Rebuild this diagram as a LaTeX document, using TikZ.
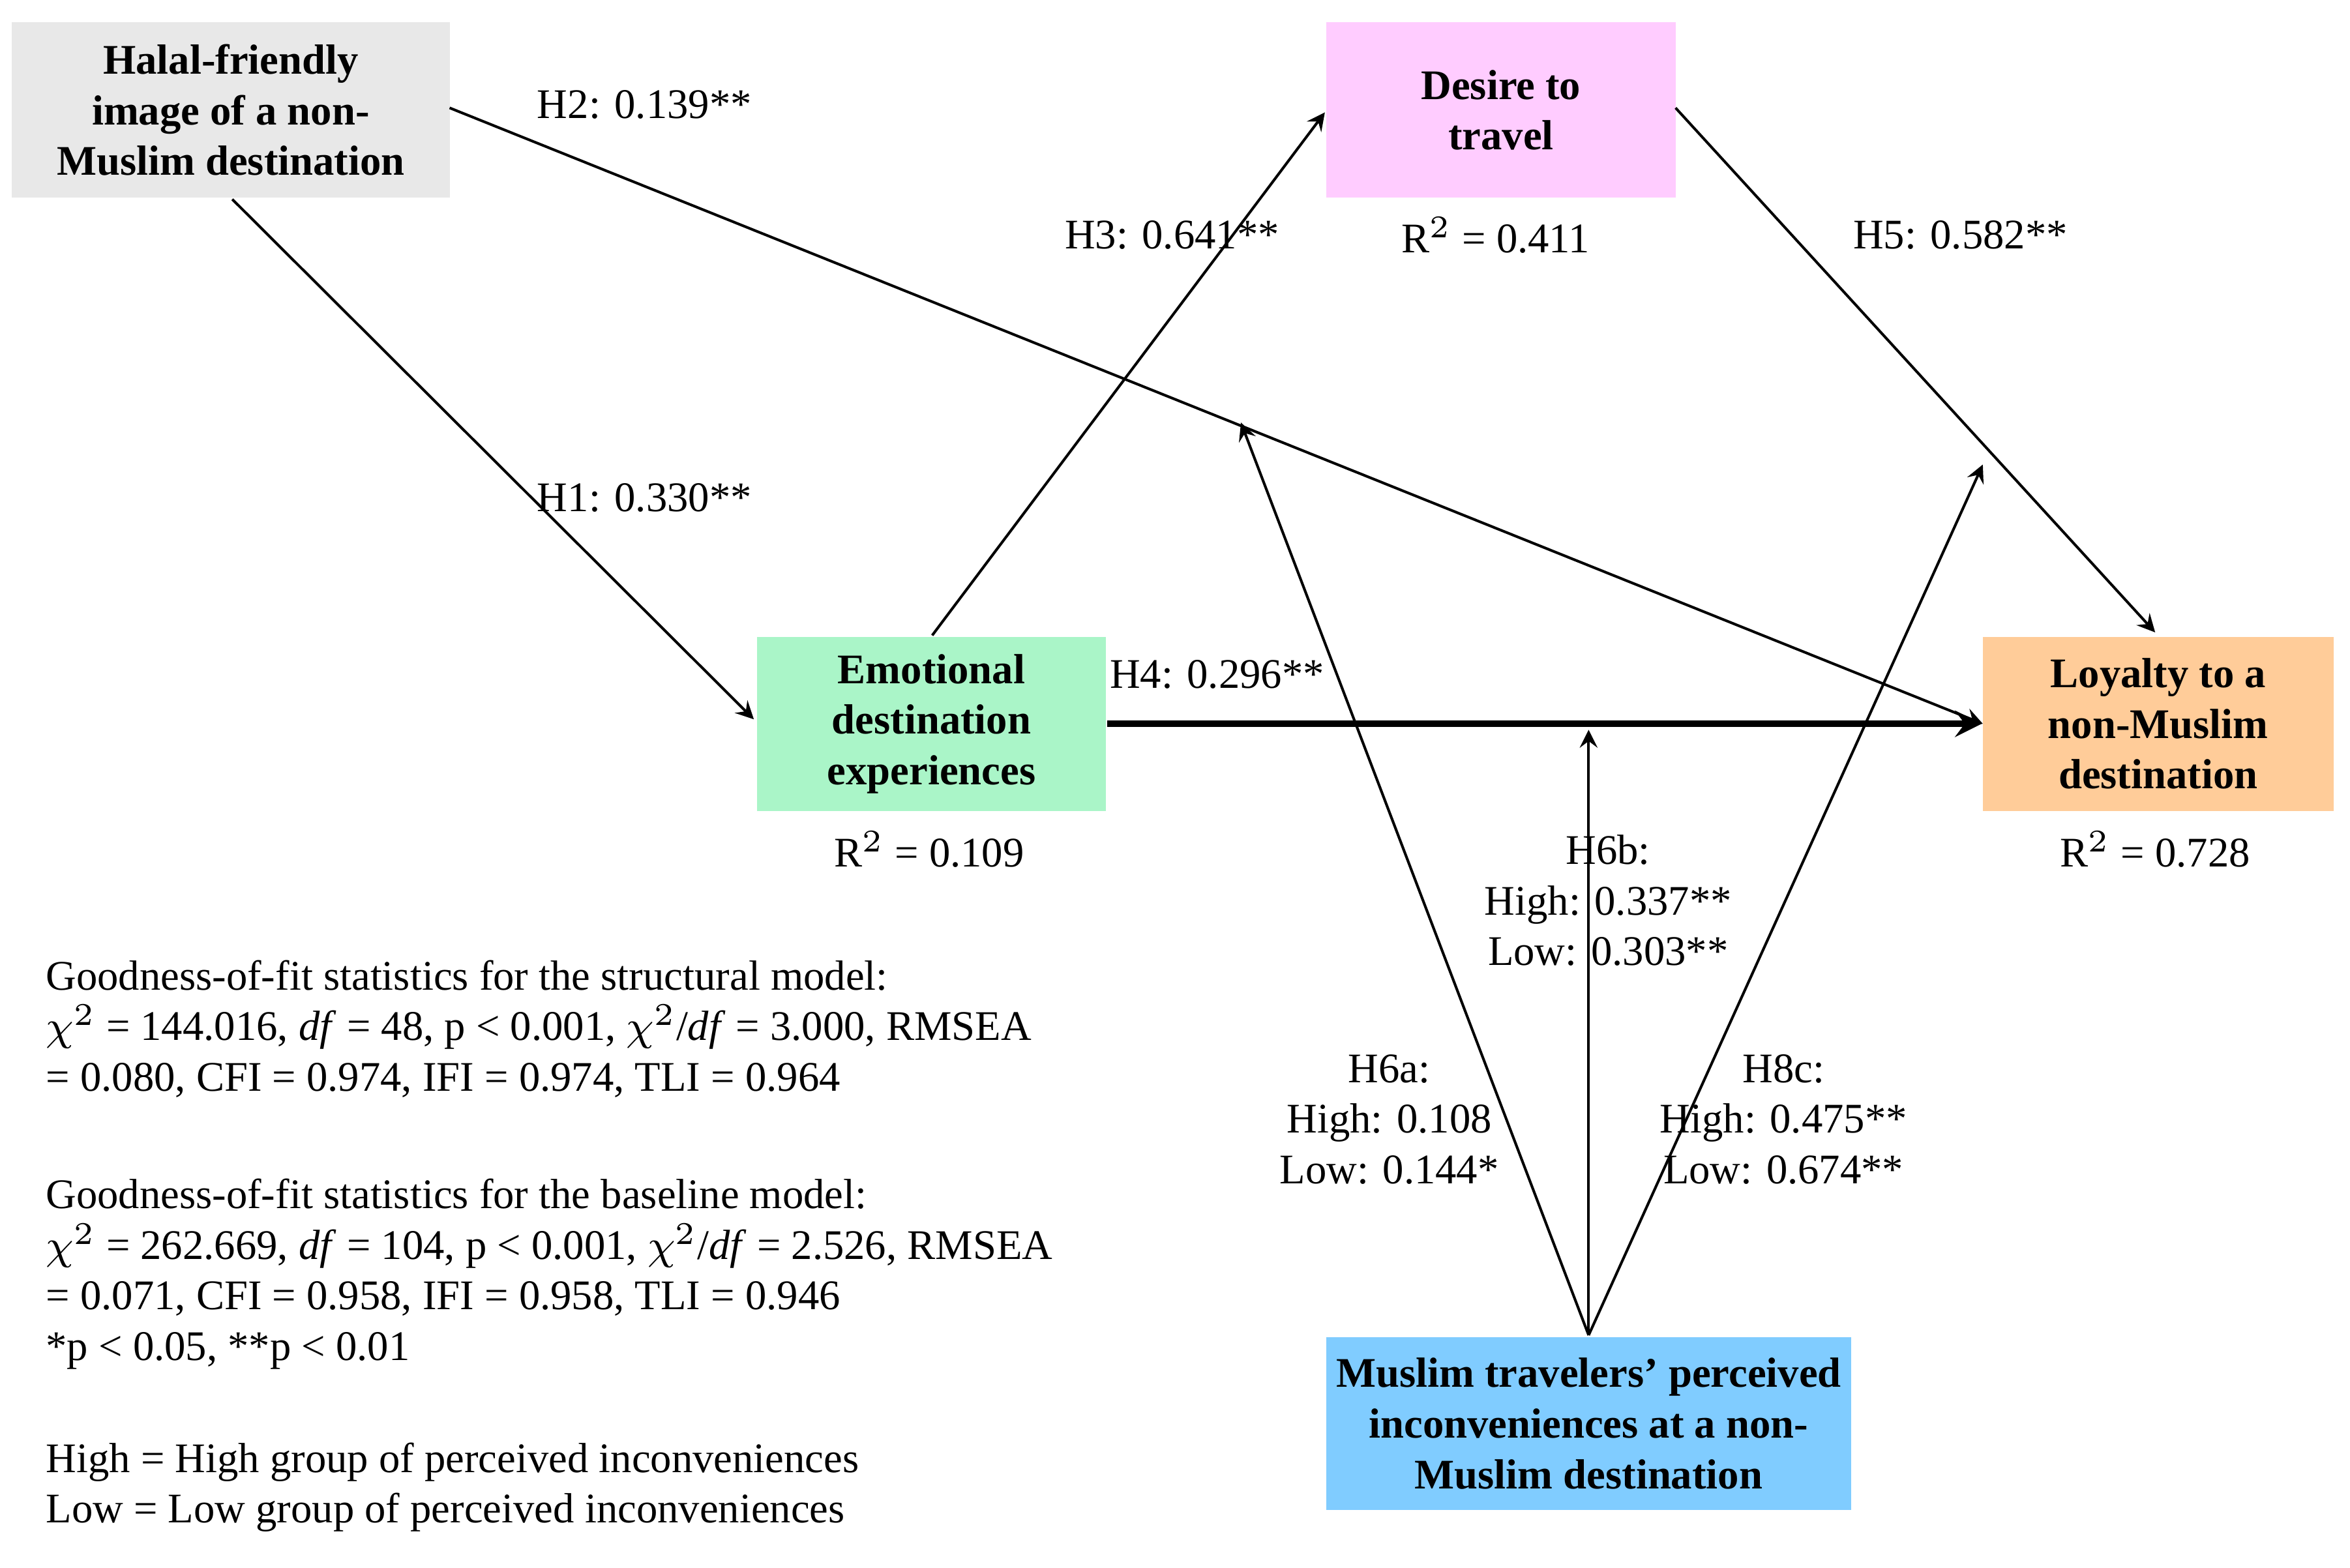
\documentclass[tikz,border=0pt]{standalone}
\usepackage{fontspec}
\setmainfont{Liberation Serif}
\begin{document}
\begin{tikzpicture}[x=0.01cm,y=-0.01cm,
  every node/.style={font=\fontsize{8}{9.6}\selectfont},
  box/.style={draw=none,minimum width=#1,inner sep=0pt,align=center,font=\fontsize{8}{9.6}\selectfont\bfseries},
  arr/.style={-stealth,line width=0.5pt},
  lab/.style={inner sep=0pt,align=center}]
\useasboundingbox (0,0) rectangle (1568,1046);
\fill[white] (0,0) rectangle (1568,1046);
\node[box=2.92cm,fill={rgb,255:red,232;green,232;blue,232},minimum height=1.17cm] (hal) at (154,73.5) {Halal-friendly\\image of a non-\\Muslim destination};
\node[box=2.33cm,fill={rgb,255:red,255;green,204;blue,255},minimum height=1.17cm] (des) at (1001.5,73.5) {Desire to\\travel};
\node[box=2.33cm,fill={rgb,255:red,170;green,245;blue,200},minimum height=1.16cm] (emo) at (621.5,483) {Emotional\\destination\\experiences};
\node[box=2.34cm,fill={rgb,255:red,255;green,204;blue,153},minimum height=1.16cm] (loy) at (1440,483) {Loyalty to a\\non-Muslim\\destination};
\node[box=3.5cm,fill={rgb,255:red,128;green,204;blue,255},minimum height=1.15cm] (mus) at (1060,950) {Muslim travelers' perceived\\inconveniences at a non-\\Muslim destination};
\coordinate (a1) at (155,133); \coordinate (b1) at (503,480);
\draw[arr] (a1) -- (b1);
\coordinate (a2) at (300,72); \coordinate (b2) at (1323,483);
\draw[arr] (a2) -- (b2);
\coordinate (a3) at (622,424); \coordinate (b3) at (884,75);
\draw[arr] (a3) -- (b3);
\coordinate (a5) at (1118,72); \coordinate (b5) at (1438,422);
\draw[arr] (a5) -- (b5);
\draw[arr,line width=1.2pt] (emo.east) -- (loy.west);
\coordinate (m) at (1060,891);
\coordinate (t6a) at (828,282); \coordinate (t6b) at (1060,487); \coordinate (t8c) at (1323,310);
\draw[arr] (m) -- (t6a);
\draw[arr] (m) -- (t6b);
\draw[arr] (m) -- (t8c);
\node[lab] (l2) at (430,70) {H2: 0.139**};
\node[lab] (l3) at (782,157) {H3: 0.641**};
\node[lab] (r1) at (998,157) {R$^2$ = 0.411};
\node[lab] (l5) at (1308,157) {H5: 0.582**};
\node[lab] (l1) at (430,332) {H1: 0.330**};
\node[lab] (l4) at (812,450) {H4: 0.296**};
\node[lab] (r2) at (620,567) {R$^2$ = 0.109};
\node[lab] (r3) at (1438,567) {R$^2$ = 0.728};
\node[lab] (l6b) at (1073,601) {H6b:\\High: 0.337**\\Low: 0.303**};
\node[lab] (l6a) at (927,747) {H6a:\\High: 0.108\\Low: 0.144*};
\node[lab] (l8c) at (1190,747) {H8c:\\High: 0.475**\\Low: 0.674**};
\node[lab,anchor=north west,align=left] (st) at (30,640) {Goodness-of-fit statistics for the structural model:\\
$\chi^2$ = 144.016, \textit{df} = 48, p < 0.001, $\chi^2$/\textit{df} = 3.000, RMSEA\\
= 0.080, CFI = 0.974, IFI = 0.974, TLI = 0.964};
\node[lab,anchor=north west,align=left] (sb) at (30,786) {Goodness-of-fit statistics for the baseline model:\\
$\chi^2$ = 262.669, \textit{df} = 104, p < 0.001, $\chi^2$/\textit{df} = 2.526, RMSEA\\
= 0.071, CFI = 0.958, IFI = 0.958, TLI = 0.946\\
*p < 0.05, **p < 0.01};
\node[lab,anchor=north west,align=left] (hl) at (30,962) {High = High group of perceived inconveniences\\Low = Low group of perceived inconveniences};
\end{tikzpicture}
\end{document}
